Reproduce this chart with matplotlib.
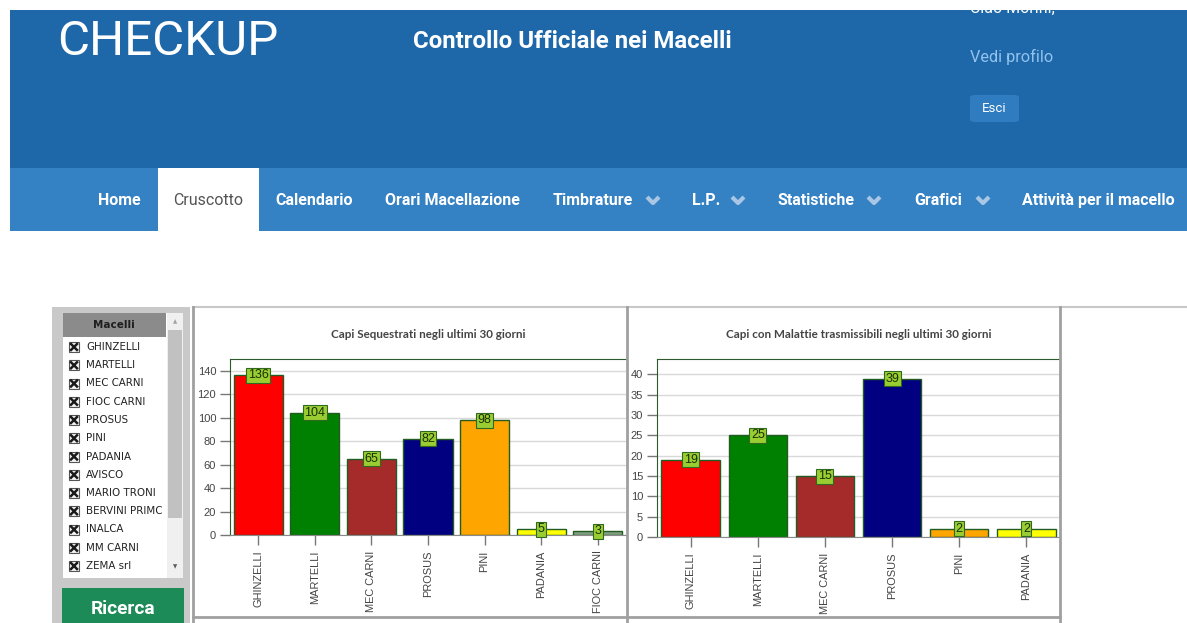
import matplotlib
matplotlib.use("Agg")
import matplotlib.pyplot as plt
from matplotlib.patches import Rectangle, FancyBboxPatch
from matplotlib.lines import Line2D
import numpy as np

# ---------------------------------------------------------------------------
# Data
# ---------------------------------------------------------------------------
seq_names = ["GHINZELLI", "MARTELLI", "MEC CARNI", "PROSUS", "PINI",
             "PADANIA", "FIOC CARNI"]
seq_values = [136, 104, 65, 82, 98, 5, 3]

mal_names = ["GHINZELLI", "MARTELLI", "MEC CARNI", "PROSUS", "PINI", "PADANIA"]
mal_values = [19, 25, 15, 39, 2, 2]

macelli = ["GHINZELLI", "MARTELLI", "MEC CARNI", "FIOC CARNI", "PROSUS",
           "PINI", "PADANIA", "AVISCO", "MARIO TRONI", "BERVINI PRIMC",
           "INALCA", "MM CARNI", "ZEMA srl"]

nav_items = ["Home", "Cruscotto", "Calendario", "Orari Macellazione",
             "Timbrature", "L.P.", "Statistiche", "Grafici",
             "Attività per il macello"]

# ---------------------------------------------------------------------------
# Styling
# ---------------------------------------------------------------------------
BAR_COLORS = {"GHINZELLI": "#ff0000", "MARTELLI": "#008000",
              "MEC CARNI": "#a52a2a", "PROSUS": "#000080",
              "PINI": "#ffa500", "PADANIA": "#ffff00",
              "FIOC CARNI": "#809f80"}
HEADER_BLUE = "#1e67a9"
NAV_BLUE = "#3481c4"
W, H = 1187, 623

fig = plt.figure(figsize=(W / 100, H / 100), dpi=100)


def box(x0, y0, x1, y1, **kw):
    fig.patches.append(Rectangle((x0 / W, 1 - y1 / H), (x1 - x0) / W,
                                 (y1 - y0) / H, transform=fig.transFigure, **kw))


def label(x, y, s, **kw):
    fig.text(x / W, 1 - y / H, s, **kw)


def line(xs, ys, **kw):
    fig.lines.append(Line2D([x / W for x in xs], [1 - y / H for y in ys],
                            transform=fig.transFigure, **kw))


# ---------------------------------------------------------------------------
# Header + nav
# ---------------------------------------------------------------------------
box(10, 10, W, 168, facecolor=HEADER_BLUE, edgecolor="none", zorder=1)
box(10, 168, W, 231, facecolor=NAV_BLUE, edgecolor="none", zorder=1)
box(158, 168, 259, 231, facecolor="white", edgecolor="none", zorder=1.5)

label(57, 42, "CHECKUP", family="Roboto", fontsize=35.5, color="white",
      va="center", ha="left", zorder=2)
label(413, 41, "Controllo Ufficiale nei Macelli", family="Roboto",
      fontsize=17.3, fontweight="bold", color="white", va="center",
      ha="left", zorder=2)
label(970, 13, "Ciao Morini,", family="Roboto", fontsize=11.5, color="white",
      va="baseline", ha="left", zorder=2)
box(0, 0, W, 10, facecolor="white", edgecolor="none", zorder=5)
label(970, 57, "Vedi profilo", family="Roboto", fontsize=11.7,
      color="#93c3ee", va="center", ha="left", zorder=2)
fig.patches.append(FancyBboxPatch((970 / W, 1 - 122 / H), 49 / W, 27 / H,
                                  boxstyle="round,pad=0,rounding_size=0.004",
                                  transform=fig.transFigure,
                                  facecolor="#2f7cc1", edgecolor="none",
                                  zorder=1.5))
label(994.5, 108, "Esci", family="Roboto", fontsize=9.5, color="white",
      va="center", ha="center", zorder=2)

nav_left = [98, 173, 275, 385, 553, 692, 777, 914, 1022]
chevrons = {"Timbrature": 653, "L.P.": 738, "Statistiche": 874, "Grafici": 983}
for name, x in zip(nav_items, nav_left):
    active = name == "Cruscotto"
    label(x, 200, name, family="Roboto", fontsize=11.5,
          fontweight="normal" if active else "bold",
          color="#555555" if active else "white", va="center", ha="left",
          zorder=2)
    if name in chevrons:
        cx = chevrons[name]
        line([cx - 6, cx, cx + 6], [197, 203, 197], color="#a9c7e5", lw=3,
             solid_capstyle="butt", zorder=2)

# ---------------------------------------------------------------------------
# Left list panel
# ---------------------------------------------------------------------------
box(52, 307, 190, 623, facecolor="#c9c9c9", edgecolor="none", zorder=1)
box(63, 313, 183, 578, facecolor="white", edgecolor="none", zorder=1.2)
box(63, 313, 166, 337, facecolor="#8b8b8b", edgecolor="none", zorder=1.3)
box(167, 313, 183, 578, facecolor="#f0f0f0", edgecolor="none", zorder=1.3)
box(168, 330, 182, 518, facecolor="#c1c1c1", edgecolor="none", zorder=1.4)
label(114, 325, "Macelli", family="DejaVu Sans", fontsize=7.5,
      fontweight="bold", color="#1e1e1e", ha="center", va="center", zorder=2)
label(175, 322, "▲", family="DejaVu Sans", fontsize=4, color="#a0a0a0",
      ha="center", va="center", zorder=2)
label(175, 567, "▼", family="DejaVu Sans", fontsize=4, color="#606060",
      ha="center", va="center", zorder=2)
for i, name in enumerate(macelli):
    y = 347 + i * 18.25
    box(69, y - 5, 79, y + 5, facecolor="#f4f4f4", edgecolor="#555555",
        lw=0.8, zorder=2)
    line([71, 77], [y - 3, y + 3], color="#1a1a1a", lw=1.8, zorder=2.1)
    line([71, 77], [y + 3, y - 3], color="#1a1a1a", lw=1.8, zorder=2.1)
    label(86, y, name, family="DejaVu Sans", fontsize=7.4, color="#222222",
          ha="left", va="center", zorder=2)

box(62, 588, 184, 630, facecolor="#1d8b57", edgecolor="none", zorder=1.3)
label(123, 609, "Ricerca", family="Roboto", fontsize=13.8, fontweight="bold",
      color="white", ha="center", va="center", zorder=2)

# ---------------------------------------------------------------------------
# Chart panels
# ---------------------------------------------------------------------------
line([193, W], [307, 307], color="#c8c8c8", lw=1.5, zorder=3)
line([193, 1060], [617, 617], color="#a0a0a0", lw=2, zorder=3)
for x in (193, 627, 1060):
    line([x, x], [307, 623], color="#a0a0a0", lw=2, zorder=3)


def bar_chart(rect, names, values, ymax, yticks, title):
    x0, top, x1, bottom = rect
    ax = fig.add_axes([x0 / W, 1 - bottom / H, (x1 - x0) / W,
                       (bottom - top) / H])
    ax.set_zorder(2)
    xs = np.arange(len(names))
    ax.bar(xs, values, 0.87, color=[BAR_COLORS[n] for n in names],
           edgecolor="#235c23", linewidth=1, zorder=2)
    for xi, v in zip(xs, values):
        ax.text(xi, v, str(v), ha="center", va="center", fontsize=9,
                family="Liberation Sans", color="#183000", zorder=4,
                bbox=dict(boxstyle="square,pad=0.12", fc="#9acd32",
                          ec="#2f6b1f", lw=0.8))
    ax.set_xlim(-0.5, len(names) - 0.5)
    ax.set_ylim(0, ymax)
    ax.set_yticks(yticks)
    ax.set_xticks(xs)
    ax.set_xticklabels(names, rotation=90, family="Liberation Sans",
                       fontsize=7.9, color="#444444")
    for t in ax.get_yticklabels():
        t.set_family("Liberation Sans")
    ax.tick_params(axis="y", labelsize=8, labelcolor="#444444",
                   color="#777777", length=7, width=1, pad=3)
    ax.tick_params(axis="x", color="#777777", length=7, width=1, pad=4)
    ax.grid(True, axis="y", color="#d9d9d9", lw=1, zorder=0)
    ax.set_axisbelow(True)
    ax.spines["right"].set_visible(False)
    ax.spines["top"].set_color("#2d5a2d")
    ax.spines["left"].set_color("#2d5a2d")
    ax.spines["bottom"].set_color("#8a8a8a")
    ax.text(0.5, 1 + 25 / (bottom - top), title, transform=ax.transAxes,
            ha="center", va="center", family="Lato", fontweight="bold",
            fontsize=8.4, color="#444444")
    return ax


bar_chart((230, 359, 626, 535), seq_names, seq_values, 150,
          np.arange(0, 141, 20), "Capi Sequestrati negli ultimi 30 giorni")
bar_chart((657, 359, 1060, 537), mal_names, mal_values, 43.8,
          np.arange(0, 41, 5),
          "Capi con Malattie trasmissibili negli ultimi 30 giorni")

fig.savefig("out.png", dpi=100)
